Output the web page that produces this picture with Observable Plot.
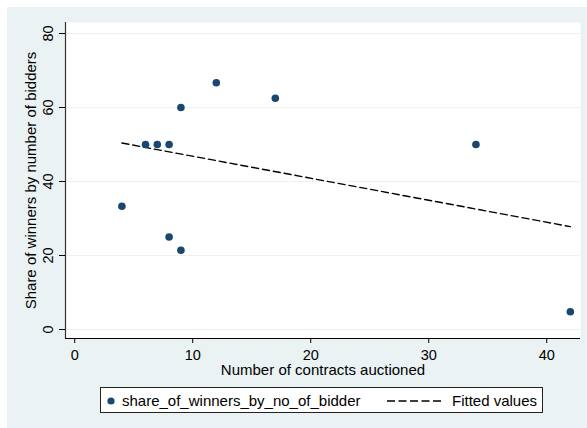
<!DOCTYPE html>
<html>
<head>
<meta charset="utf-8">
<script src="https://cdn.jsdelivr.net/npm/d3@7"></script>
<script src="https://cdn.jsdelivr.net/npm/@observablehq/plot@0.6"></script>
<style>
  html, body { margin: 0; padding: 0; background: #ffffff; }
  #wrap { position: relative; width: 587px; height: 428px; background: #ffffff; overflow: hidden;
          font-family: "Liberation Sans", Arial, Helvetica, sans-serif; }
  #panel { position: absolute; left: 7px; top: 7px; width: 580px; height: 421px; background: #eaf2f3; }
  #chart { position: absolute; left: 0; top: 0; }
  #legend { position: absolute; left: 93px; top: 380px; width: 441px; height: 24px; background: #ffffff;
            border: 1px solid #222; font-size: 15px; color: #000; }
  #legend svg { position: absolute; left: 0; top: 0; }
  .lt { position: absolute; top: 0; line-height: 26px; white-space: nowrap; }
</style>
</head>
<body>
<div id="wrap">
  <div id="panel">
    <div id="chart"></div>
    <div id="legend">
      <svg width="441" height="24">
        <circle cx="10" cy="13" r="3.6" fill="#1a476f"></circle>
        <line x1="286" x2="342" y1="13" y2="13" stroke="#000" stroke-width="1.3" stroke-dasharray="8,3.5"></line>
      </svg>
      <span class="lt" style="left:21px">share_of_winners_by_no_of_bidder</span>
      <span class="lt" style="left:351px">Fitted values</span>
    </div>
  </div>
</div>
<script>
// Data
const contracts = [4, 6, 7, 8, 9, 12, 17, 34, 8, 9, 42];
const shareWinners = [33.3, 50, 50, 50, 60, 66.7, 62.5, 50, 25, 21.4, 4.8];
const fittedX = [4, 42];
const fittedY = [50.4, 27.8];
const xTicks = [0, 10, 20, 30, 40];
const yTicks = [0, 20, 40, 60, 80];
const xLabel = "Number of contracts auctioned";
const yLabel = "Share of winners by number of bidders";

const points = contracts.map((x, i) => ({x, y: shareWinners[i]}));
const fitted = fittedX.map((x, i) => ({x, y: fittedY[i]}));

const xDomain = [-0.78, 42.86];
const yDomain = [-2.43, 82.97];

const chart = Plot.plot({
  width: 580,
  height: 372,
  marginLeft: 58,
  marginRight: 7,
  marginTop: 15,
  marginBottom: 41,
  style: {background: "transparent", fontFamily: "'Liberation Sans', Arial, Helvetica, sans-serif", fontSize: "14px", color: "#000"},
  x: {domain: xDomain, axis: null},
  y: {domain: yDomain, axis: null},
  marks: [
    Plot.frame({fill: "#ffffff", stroke: null}),
    Plot.ruleY(yTicks, {stroke: "#eaf2f3", strokeWidth: 1}),
    Plot.line(fitted, {x: "x", y: "y", stroke: "#000", strokeWidth: 1.4, strokeDasharray: "7,4"}),
    Plot.dot(points, {x: "x", y: "y", r: 3.8, fill: "#1a476f", stroke: null}),
    Plot.ruleX([xDomain[0]], {stroke: "#333", strokeWidth: 1.2}),
    Plot.ruleY([yDomain[0]], {stroke: "#000", strokeWidth: 1.2}),
    Plot.axisX({ticks: xTicks, tickSize: 5, tickPadding: 6, fontSize: 14.5, label: null, stroke: "#000"}),
    Plot.axisY({ticks: yTicks, tickSize: 6, tickFormat: () => "", label: null, stroke: "#000"}),
    Plot.text(yTicks, {y: d => d, text: d => String(d), frameAnchor: "left", dx: -17.5, rotate: -90, textAnchor: "middle", lineAnchor: "middle", fontSize: 14.5, fill: "#000"}),
    Plot.text([xLabel], {text: d => d, frameAnchor: "bottom", dy: 32, lineAnchor: "middle", fontSize: 15, fill: "#000"}),
    Plot.text([yLabel], {text: d => d, frameAnchor: "left", dx: -34, rotate: -90, textAnchor: "middle", lineAnchor: "middle", fontSize: 15, fill: "#000"})
  ]
});
document.getElementById("chart").appendChild(chart);
</script>
</body>
</html>
